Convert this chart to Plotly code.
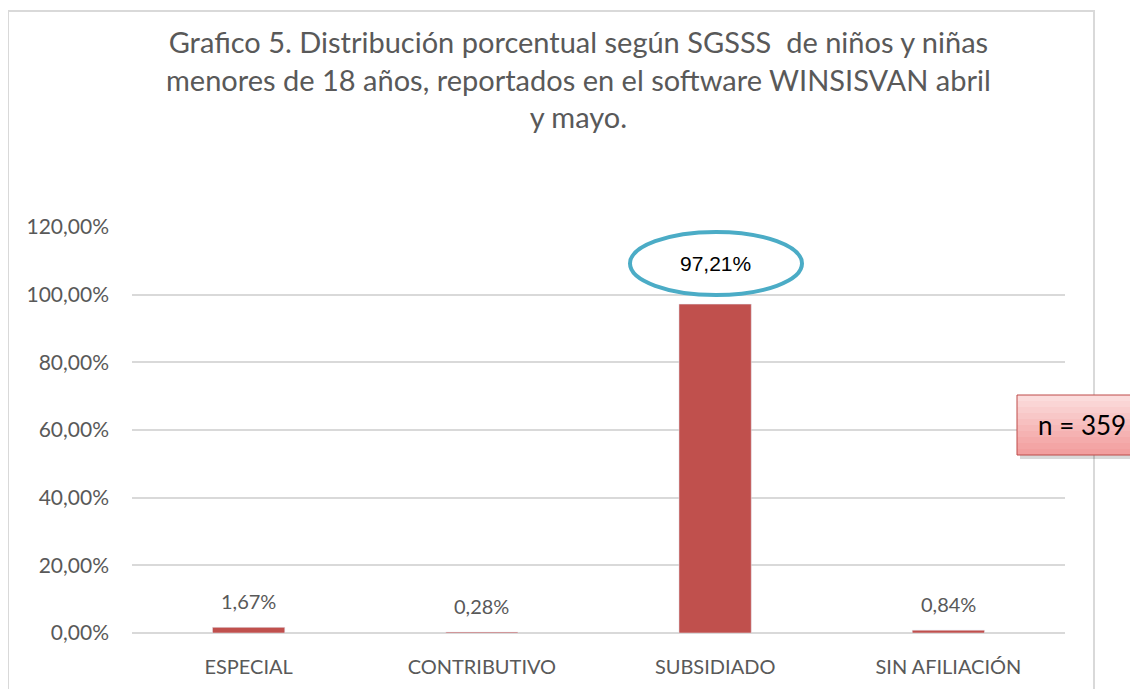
import plotly.graph_objects as go

categories = ["ESPECIAL", "CONTRIBUTIVO", "SUBSIDIADO", "SIN AFILIACIÓN"]
values = [0.0167, 0.0028, 0.9721, 0.0084]
labels = ["1,67%", "0,28%", "97,21%", "0,84%"]
tick_vals = [0, 0.2, 0.4, 0.6, 0.8, 1.0, 1.2]
tick_text = ["0,00%", "20,00%", "40,00%", "60,00%", "80,00%", "100,00%", "120,00%"]
title_text = ("Grafico 5. Distribución porcentual según SGSSS  de niños y niñas<br>"
              "menores de 18 años, reportados en el software WINSISVAN abril<br>y mayo.")
n_text = "n = 359"

OFF = 8  # page body margin
W, H = 1138 - OFF, 689 - OFF
# plot area in reference pixel coords
RL, RR, RT, RB = 132, 1065, 227, 633
L, T = RL - OFF, RT - OFF
R, B = W - (RR - OFF), H - (RB - OFF)
PW, PH = RR - RL, RB - RT

def px(x):  # reference pixel x -> paper
    return (x - RL) / PW

def py(y):  # reference pixel y -> paper
    return (RB - y) / PH

FONT = "Lato, Liberation Sans Narrow, sans-serif"
GREY = "#595959"

fig = go.Figure(go.Bar(
    x=categories, y=values, marker_color="#C0504D", width=0.31,
))

annotations = []
for c, v, t in zip(categories, values, labels):
    if v > 0.5:
        annotations.append(dict(x=c, y=v, text=t, showarrow=False, yshift=41,
                                font=dict(family="Liberation Sans, Arial", size=21, color="#000000")))
    else:
        annotations.append(dict(x=c, y=v, text=t, showarrow=False, yshift=26,
                                font=dict(family=FONT, size=20, color=GREY)))

annotations.append(dict(xref="paper", yref="paper", x=px(1082), y=py(425), text=n_text,
                        xanchor="center", yanchor="middle",
                        showarrow=False, font=dict(family="Lato, sans-serif", size=26, color="#000000")))
annotations.append(dict(xref="paper", yref="paper", x=px(578), y=py(22), yanchor="top",
                        xanchor="center",
                        text=title_text, showarrow=False, align="center",
                        font=dict(family=FONT, size=29, color=GREY)))

shapes = [
    dict(type="rect", xref="paper", yref="paper", x0=px(8), x1=px(1094), y0=py(700), y1=py(11),
         line=dict(color="#D9D9D9", width=2), fillcolor="rgba(0,0,0,0)", layer="below"),
    dict(type="circle", xref="paper", yref="paper", x0=px(630), x1=px(802), y0=py(295), y1=py(232),
         line=dict(color="#4BACC6", width=4), fillcolor="rgba(0,0,0,0)"),
    dict(type="rect", xref="paper", yref="paper", x0=px(1020), x1=px(1150), y0=py(459), y1=py(399),
         line=dict(width=0), fillcolor="rgba(0,0,0,0.15)"),
]
# gradient box for n
grad = ["#FBDCDC", "#FAD5D5", "#F9CECE", "#F8C7C7", "#F7C0C0", "#F6B9B9",
        "#F5B2B2", "#F4ABAB", "#F3A5A5", "#F29F9F"]
y0b, y1b = 395, 455
step = (y1b - y0b) / len(grad)
for i, col in enumerate(grad):
    shapes.append(dict(type="rect", xref="paper", yref="paper", x0=px(1017), x1=px(1150),
                       y0=py(y0b + (i + 1) * step), y1=py(y0b + i * step),
                       line=dict(width=0), fillcolor=col))
shapes.append(dict(type="rect", xref="paper", yref="paper", x0=px(1017), x1=px(1150),
                   y0=py(y1b), y1=py(y0b), line=dict(color="#BE4B48", width=1),
                   fillcolor="rgba(0,0,0,0)"))

fig.update_layout(
    width=W, height=H,
    margin=dict(l=L, r=R, t=T, b=B, autoexpand=False),
    paper_bgcolor="white", plot_bgcolor="white",
    showlegend=False,
    annotations=annotations,
    shapes=shapes,
    xaxis=dict(showgrid=False, showline=False, ticks="", ticklabelstandoff=20,
               tickfont=dict(family=FONT, size=20, color=GREY)),
    yaxis=dict(range=[0, 1.2], tickvals=tick_vals, ticktext=tick_text, showgrid=True,
               gridcolor="#D9D9D9", gridwidth=1.5, zeroline=True, zerolinecolor="#D9D9D9",
               zerolinewidth=1.5, showline=False, ticks="", ticklabelstandoff=22,
               tickfont=dict(family=FONT, size=21, color=GREY)),
)

fig.write_html("out.html")
